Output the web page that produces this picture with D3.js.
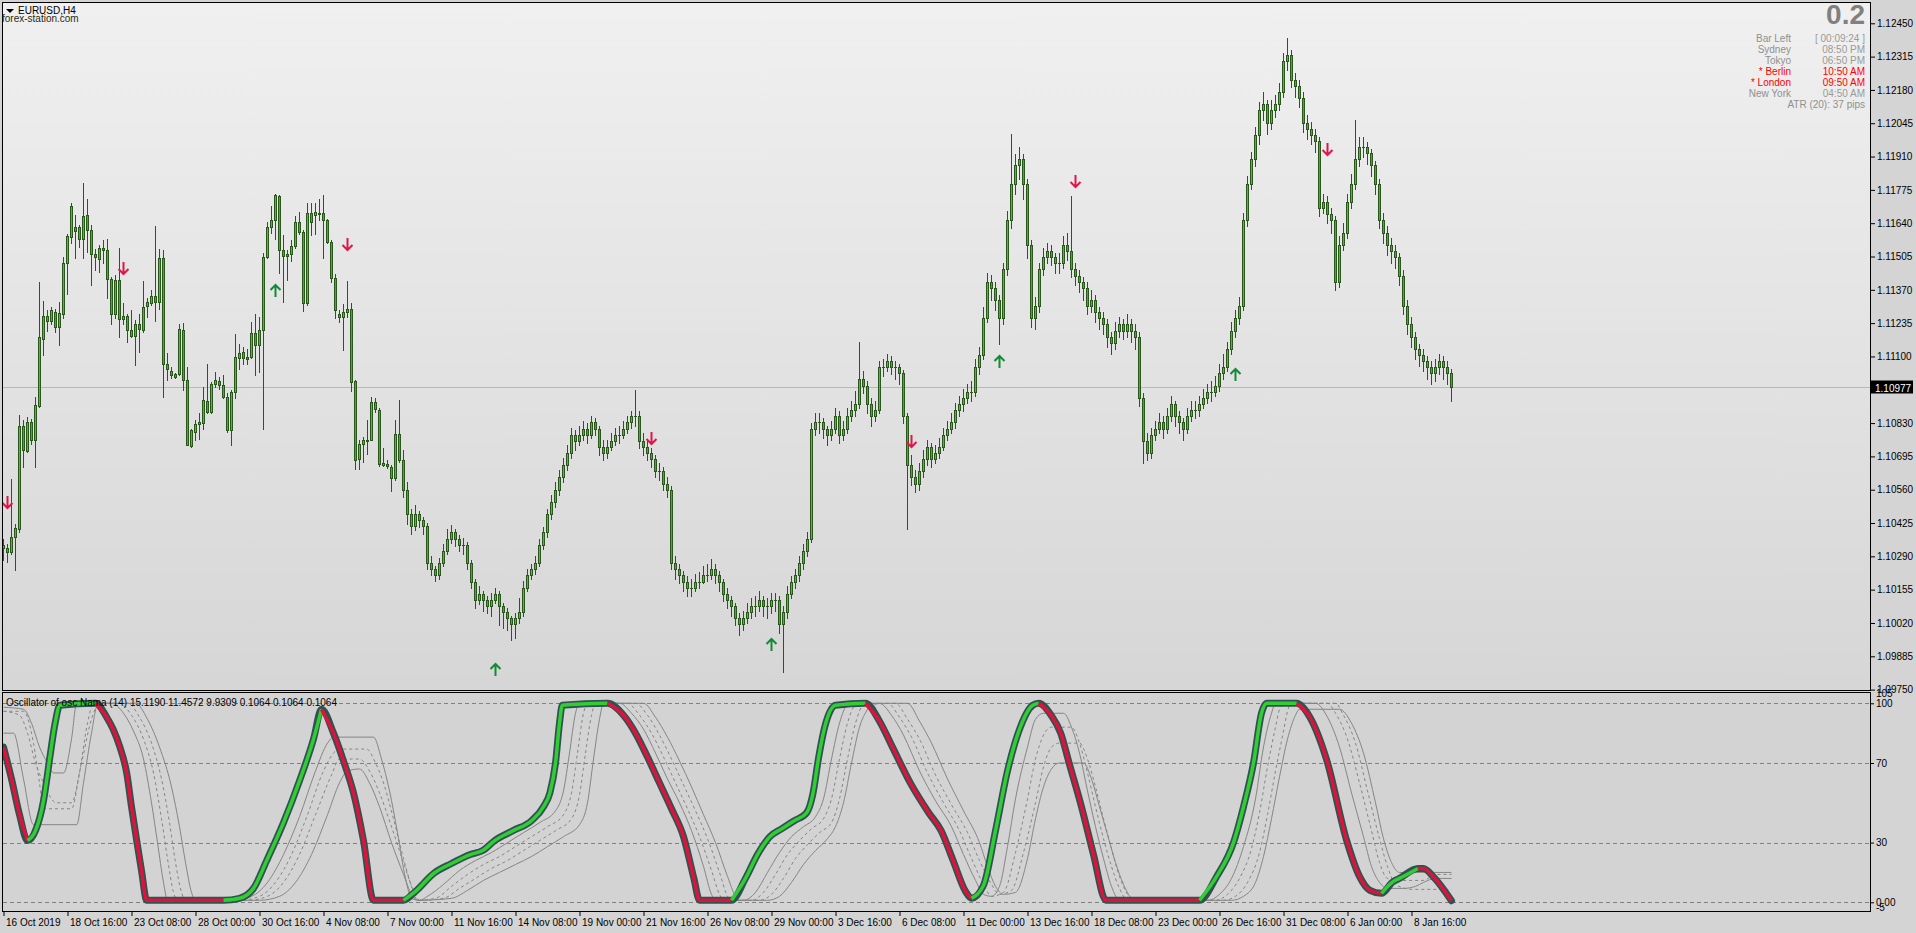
<!DOCTYPE html>
<html><head><meta charset="utf-8">
<script src="https://cdn.jsdelivr.net/npm/d3@7"></script>
<style>body{margin:0;background:#d4d4d4;overflow:hidden}svg{display:block}</style>
</head><body><svg id="c" width="1916" height="933"></svg>
<script>
// ---------------- DATA ----------------
const priceTicks=[1.12450,1.12315,1.12180,1.12045,1.11910,1.11775,1.11640,1.11505,1.11370,1.11235,1.11100,1.10830,1.10695,1.10560,1.10425,1.10290,1.10155,1.10020,1.09885,1.09750];
const currentPrice=1.10977;
const timeLabels=["16 Oct 2019","18 Oct 16:00","23 Oct 08:00","28 Oct 00:00","30 Oct 16:00","4 Nov 08:00","7 Nov 00:00","11 Nov 16:00","14 Nov 08:00","19 Nov 00:00","21 Nov 16:00","26 Nov 08:00","29 Nov 00:00","3 Dec 16:00","6 Dec 08:00","11 Dec 00:00","13 Dec 16:00","18 Dec 08:00","23 Dec 00:00","26 Dec 16:00","31 Dec 08:00","6 Jan 00:00","8 Jan 16:00"];
const timeLabelBars=[0,16,32,48,64,80,96,112,128,144,160,176,192,208,224,240,256,272,288,304,320,336,352];
// opens of the first 100 bars (later bars open at the previous close)
const opens=[1.10335,1.10324,1.10308,1.10369,1.10400,1.10817,1.10716,1.10835,1.10761,1.10898,
1.11171,1.11263,1.11244,1.11281,1.11220,1.11274,1.11477,1.11585,1.11623,1.11623,
1.11574,1.11673,1.11612,1.11517,1.11493,1.11541,1.11531,1.11412,1.11270,1.11409,
1.11250,1.11263,1.11209,1.11183,1.11231,1.11209,1.11306,1.11317,1.11346,1.11321,
1.11497,1.11071,1.11040,1.11028,1.11027,1.11209,1.11004,1.10736,1.10794,1.10828,
1.10831,1.10920,1.10875,1.10990,1.11000,1.10984,1.10936,1.10801,1.10954,1.11092,
1.11119,1.11096,1.11096,1.11193,1.11146,1.11209,1.11501,1.11623,1.11652,1.11750,
1.11531,1.11517,1.11515,1.11549,1.11646,1.11605,1.11315,1.11682,1.11675,1.11677,
1.11680,1.11651,1.11562,1.11416,1.11274,1.11258,1.11281,1.11294,1.11001,1.10686,
1.10744,1.10758,1.10763,1.10916,1.10885,1.10659,1.10663,1.10653,1.10609,1.10785];
const closes=[1.10324,1.10308,1.10369,1.10403,1.10817,1.10720,1.10835,1.10761,1.10903,1.11177,
1.11263,1.11244,1.11288,1.11220,1.11278,1.11477,1.11587,1.11709,1.11608,1.11575,
1.11669,1.11612,1.11517,1.11501,1.11541,1.11531,1.11412,1.11270,1.11409,1.11250,
1.11263,1.11209,1.11183,1.11231,1.11213,1.11301,1.11319,1.11346,1.11321,1.11497,
1.11071,1.11050,1.11023,1.11017,1.11213,1.11004,1.10740,1.10801,1.10828,1.10835,
1.10923,1.10875,1.10990,1.11004,1.10984,1.10936,1.10801,1.10954,1.11096,1.11112,
1.11092,1.11089,1.11193,1.11146,1.11209,1.11501,1.11623,1.11652,1.11754,1.11531,
1.11506,1.11508,1.11547,1.11646,1.11605,1.11315,1.11682,1.11643,1.11685,1.11680,
1.11651,1.11562,1.11416,1.11288,1.11258,1.11282,1.11294,1.10996,1.10680,1.10744,
1.10761,1.10763,1.10916,1.10889,1.10666,1.10669,1.10655,1.10609,1.10785,1.10680,
1.10560,1.10461,1.10411,1.10461,1.10436,1.10411,1.10263,1.10238,1.10213,1.10263,
1.10312,1.10362,1.10387,1.10362,1.10337,1.10337,1.10263,1.10188,1.10114,1.10139,
1.10114,1.10089,1.10114,1.10139,1.10089,1.10064,1.10040,1.10015,1.10040,1.10064,
1.10163,1.10213,1.10238,1.10263,1.10337,1.10387,1.10461,1.10511,1.10560,1.10610,
1.10659,1.10709,1.10783,1.10759,1.10783,1.10808,1.10783,1.10833,1.10808,1.10734,
1.10709,1.10734,1.10759,1.10783,1.10783,1.10808,1.10833,1.10858,1.10858,1.10759,
1.10734,1.10709,1.10684,1.10635,1.10635,1.10585,1.10560,1.10263,1.10238,1.10213,
1.10188,1.10163,1.10163,1.10188,1.10188,1.10213,1.10213,1.10238,1.10213,1.10188,
1.10139,1.10114,1.10089,1.10040,1.10015,1.10040,1.10064,1.10089,1.10089,1.10114,
1.10089,1.10089,1.10114,1.10114,1.10015,1.10064,1.10139,1.10188,1.10213,1.10263,
1.10312,1.10362,1.10808,1.10833,1.10833,1.10808,1.10783,1.10808,1.10858,1.10783,
1.10808,1.10858,1.10883,1.10907,1.11007,1.10982,1.10907,1.10858,1.10882,1.11056,
1.11056,1.11081,1.11056,1.11056,1.11031,1.10858,1.10659,1.10610,1.10585,1.10635,
1.10684,1.10734,1.10684,1.10709,1.10734,1.10783,1.10808,1.10833,1.10883,1.10907,
1.10932,1.10957,1.10957,1.11056,1.11106,1.11255,1.11403,1.11379,1.11330,1.11255,
1.11453,1.11651,1.11800,1.11875,1.11899,1.11800,1.11550,1.11255,1.11304,1.11453,
1.11503,1.11527,1.11503,1.11478,1.11478,1.11552,1.11527,1.11453,1.11428,1.11403,
1.11379,1.11304,1.11330,1.11279,1.11255,1.11230,1.11180,1.11155,1.11205,1.11230,
1.11205,1.11230,1.11205,1.11180,1.10932,1.10757,1.10709,1.10783,1.10808,1.10833,
1.10808,1.10858,1.10907,1.10858,1.10833,1.10808,1.10858,1.10883,1.10883,1.10907,
1.10932,1.10957,1.10957,1.10982,1.11031,1.11056,1.11131,1.11205,1.11255,1.11304,
1.11652,1.11800,1.11899,1.11999,1.12098,1.12122,1.12048,1.12098,1.12123,1.12172,
1.12297,1.12321,1.12222,1.12197,1.12147,1.12048,1.12023,1.11999,1.11974,1.11701,
1.11726,1.11676,1.11651,1.11403,1.11552,1.11602,1.11726,1.11800,1.11899,1.11949,
1.11949,1.11924,1.11874,1.11800,1.11651,1.11602,1.11552,1.11527,1.11503,1.11428,
1.11304,1.11230,1.11180,1.11131,1.11106,1.11081,1.11056,1.11031,1.11056,1.11081,
1.11056,1.11031,1.10977];
const highs=[1.10362,1.10342,1.10605,1.10423,1.10862,1.10842,1.10855,1.10848,1.10936,1.11402,
1.11325,1.11290,1.11301,1.11294,1.11321,1.11504,1.11598,1.11720,1.11673,1.11632,
1.11801,1.11740,1.11632,1.11537,1.11551,1.11571,1.11574,1.11423,1.11429,1.11541,
1.11315,1.11274,1.11290,1.11247,1.11274,1.11405,1.11335,1.11369,1.11628,1.11537,
1.11531,1.11112,1.11058,1.11034,1.11233,1.11236,1.11058,1.10808,1.10842,1.10869,
1.10977,1.11071,1.10997,1.11038,1.11017,1.11024,1.10950,1.10963,1.11190,1.11152,
1.11139,1.11132,1.11238,1.11271,1.11261,1.11520,1.11646,1.11709,1.11760,1.11754,
1.11591,1.11531,1.11571,1.11670,1.11686,1.11612,1.11720,1.11720,1.11720,1.11740,
1.11756,1.11659,1.11571,1.11433,1.11288,1.11312,1.11405,1.11315,1.11004,1.10761,
1.10774,1.10844,1.10936,1.10930,1.10892,1.10727,1.10680,1.10659,1.10842,1.10923,
1.10720,1.10590,1.10480,1.10500,1.10475,1.10450,1.10425,1.10290,1.10250,1.10285,
1.10340,1.10400,1.10415,1.10400,1.10375,1.10365,1.10350,1.10275,1.10200,1.10170,
1.10150,1.10130,1.10140,1.10160,1.10150,1.10100,1.10080,1.10050,1.10060,1.10120,
1.10190,1.10240,1.10260,1.10290,1.10360,1.10410,1.10480,1.10540,1.10590,1.10640,
1.10690,1.10740,1.10810,1.10800,1.10820,1.10840,1.10830,1.10860,1.10850,1.10820,
1.10760,1.10760,1.10790,1.10810,1.10820,1.10840,1.10860,1.10880,1.10965,1.10880,
1.10790,1.10760,1.10730,1.10700,1.10670,1.10650,1.10610,1.10575,1.10290,1.10260,
1.10230,1.10210,1.10200,1.10220,1.10225,1.10250,1.10260,1.10280,1.10260,1.10230,
1.10200,1.10160,1.10130,1.10100,1.10060,1.10070,1.10100,1.10120,1.10130,1.10150,
1.10130,1.10120,1.10140,1.10140,1.10130,1.10090,1.10170,1.10210,1.10240,1.10290,
1.10340,1.10390,1.10830,1.10870,1.10870,1.10850,1.10820,1.10840,1.10890,1.10880,
1.10840,1.10890,1.10920,1.10960,1.11160,1.11040,1.11000,1.10930,1.10920,1.11080,
1.11090,1.11110,1.11100,1.11080,1.11070,1.11045,1.10870,1.10700,1.10640,1.10670,
1.10720,1.10760,1.10750,1.10740,1.10770,1.10810,1.10840,1.10870,1.10910,1.10940,
1.10970,1.10990,1.11000,1.11090,1.11140,1.11300,1.11440,1.11430,1.11400,1.11350,
1.11480,1.11690,1.12000,1.11920,1.11950,1.11920,1.11820,1.11570,1.11340,1.11480,
1.11540,1.11560,1.11550,1.11520,1.11520,1.11590,1.11600,1.11750,1.11480,1.11450,
1.11420,1.11400,1.11370,1.11350,1.11300,1.11280,1.11250,1.11200,1.11240,1.11260,
1.11250,1.11270,1.11250,1.11230,1.11200,1.10950,1.10790,1.10810,1.10840,1.10870,
1.10860,1.10890,1.10940,1.10920,1.10880,1.10850,1.10890,1.10920,1.10920,1.10940,
1.10970,1.10990,1.11000,1.11020,1.11070,1.11110,1.11160,1.11240,1.11290,1.11340,
1.11680,1.11830,1.11930,1.12030,1.12130,1.12170,1.12140,1.12140,1.12160,1.12210,
1.12330,1.12390,1.12340,1.12250,1.12220,1.12170,1.12080,1.12050,1.12020,1.11990,
1.11760,1.11750,1.11700,1.11670,1.11590,1.11640,1.11760,1.11840,1.12060,1.11990,
1.11990,1.11970,1.11940,1.11890,1.11820,1.11680,1.11630,1.11580,1.11550,1.11520,
1.11450,1.11330,1.11260,1.11200,1.11150,1.11130,1.11100,1.11080,1.11090,1.11110,
1.11100,1.11080,1.11050];
const lows=[1.10274,1.10268,1.10301,1.10234,1.10389,1.10653,1.10713,1.10747,1.10653,1.10896,
1.11105,1.11204,1.11233,1.11200,1.11146,1.11254,1.11352,1.11560,1.11497,1.11544,
1.11497,1.11524,1.11389,1.11450,1.11443,1.11477,1.11335,1.11233,1.11254,1.11179,
1.11233,1.11159,1.11179,1.11065,1.11119,1.11200,1.11261,1.11308,1.11244,1.11294,
1.10934,1.11004,1.11011,1.11011,1.11024,1.10963,1.10740,1.10734,1.10761,1.10767,
1.10808,1.10869,1.10869,1.10977,1.10970,1.10930,1.10794,1.10740,1.10930,1.11051,
1.11071,1.11071,1.11092,1.11024,1.11038,1.10804,1.11497,1.11601,1.11574,1.11439,
1.11321,1.11409,1.11487,1.11541,1.11598,1.11285,1.11308,1.11591,1.11598,1.11652,
1.11497,1.11558,1.11402,1.11254,1.11240,1.11128,1.11261,1.10961,1.10642,1.10642,
1.10673,1.10704,1.10761,1.10875,1.10655,1.10655,1.10646,1.10555,1.10599,1.10673,
1.10530,1.10420,1.10380,1.10395,1.10410,1.10380,1.10240,1.10215,1.10190,1.10200,
1.10250,1.10300,1.10345,1.10330,1.10310,1.10300,1.10240,1.10160,1.10080,1.10095,
1.10070,1.10060,1.10050,1.10100,1.10010,1.10000,1.09990,1.09950,1.09960,1.10020,
1.10050,1.10150,1.10200,1.10220,1.10250,1.10320,1.10370,1.10440,1.10490,1.10540,
1.10590,1.10640,1.10690,1.10720,1.10740,1.10760,1.10750,1.10770,1.10780,1.10700,
1.10680,1.10690,1.10720,1.10740,1.10750,1.10770,1.10790,1.10810,1.10820,1.10730,
1.10700,1.10680,1.10650,1.10610,1.10600,1.10560,1.10530,1.10240,1.10200,1.10180,
1.10150,1.10130,1.10130,1.10150,1.10160,1.10180,1.10190,1.10200,1.10180,1.10150,
1.10110,1.10080,1.10050,1.10010,1.09970,1.09990,1.10020,1.10040,1.10050,1.10070,
1.10050,1.10040,1.10060,1.10070,1.09980,1.09820,1.10040,1.10120,1.10160,1.10190,
1.10240,1.10290,1.10350,1.10780,1.10790,1.10770,1.10740,1.10760,1.10790,1.10750,
1.10760,1.10790,1.10840,1.10860,1.10890,1.10950,1.10870,1.10820,1.10840,1.10870,
1.11020,1.11040,1.11030,1.11010,1.10990,1.10830,1.10400,1.10580,1.10550,1.10560,
1.10610,1.10660,1.10650,1.10670,1.10690,1.10720,1.10760,1.10790,1.10810,1.10860,
1.10880,1.10910,1.10920,1.10940,1.11030,1.11090,1.11240,1.11330,1.11290,1.11150,
1.11230,1.11430,1.11620,1.11760,1.11820,1.11740,1.11500,1.11220,1.11210,1.11280,
1.11430,1.11480,1.11470,1.11440,1.11440,1.11460,1.11490,1.11420,1.11390,1.11360,
1.11330,1.11270,1.11280,1.11240,1.11210,1.11190,1.11140,1.11110,1.11130,1.11180,
1.11170,1.11180,1.11160,1.11130,1.10900,1.10670,1.10680,1.10690,1.10760,1.10790,
1.10770,1.10790,1.10840,1.10820,1.10790,1.10760,1.10790,1.10840,1.10850,1.10860,
1.10890,1.10910,1.10920,1.10940,1.10960,1.11010,1.11040,1.11110,1.11180,1.11230,
1.11290,1.11630,1.11780,1.11870,1.11960,1.12060,1.12000,1.12020,1.12070,1.12100,
1.12150,1.12260,1.12190,1.12150,1.12110,1.12010,1.11980,1.11960,1.11930,1.11670,
1.11680,1.11640,1.11600,1.11370,1.11380,1.11530,1.11580,1.11700,1.11780,1.11870,
1.11910,1.11880,1.11830,1.11760,1.11620,1.11560,1.11510,1.11480,1.11460,1.11390,
1.11270,1.11190,1.11140,1.11090,1.11060,1.11040,1.11010,1.10990,1.11000,1.11030,
1.11010,1.10990,1.10920];
const sellArrowBars=[1,30,86,162,227,268,331];
const sellArrowPrices=[1.10511,1.11460,1.11555,1.10769,1.10759,1.11810,1.11939];
const buyArrowBars=[68,123,192,249,308];
const buyArrowPrices=[1.11366,1.09831,1.09930,1.11076,1.11026];
// oscillator main line: [bar, value, direction of following segment (1 up / -1 down)]
const oscMain=[[0,78,-1],[2,62,-1],[4,44,-1],[6,31,1],[8,36,1],[10,51,1],[11.6,73,1],[12.9,90,1],[14.1,99,1],[23,100,-1],
[25.8,93,-1],[27.4,87,-1],[29.1,78,-1],[30.8,65,-1],[32,48,-1],[33.3,31,-1],[34.5,16,-1],[35.8,1,-1],[55,1,1],[59,2,1],
[62.5,7,1],[65.8,21,1],[70,40,1],[74,61,1],[77.5,82,1],[79.5,97,-1],[82.5,85,-1],[85,71,-1],[87.5,55,-1],[90,31,-1],
[92.5,1,-1],[100,1,1],[103,5.5,1],[107.6,14.6,1],[112,19.5,1],[116.7,24,1],[119.8,26,1],[122.8,31,1],[127.4,36,1],[132,41,1],
[135,48,1],[136.6,55,1],[138,70,1],[139,90,1],[139.7,99,1],[151,100,-1],[155,94,-1],[158,85,-1],[161,73,-1],[164,60,-1],
[167,47,-1],[170,33,-1],[172.6,12,-1],[174,1,-1],[182,1,1],[185.5,12,1],[188.5,24,1],[191.6,33,1],[194.6,37,1],[197.7,41,1],
[200.8,45,1],[202.3,54,1],[203.8,73,1],[205.3,88,1],[208,99,1],[215.5,100,-1],[219,91,-1],[222,79,-1],[226.7,60,-1],[231.3,45,-1],
[234.4,36,-1],[237.4,21,-1],[240.5,5.5,-1],[242,2,1],[245,8.5,1],[248,36,1],[251,66,1],[254.2,88,1],[257.3,99,1],[258.8,100,-1],
[261.9,94,-1],[264.3,85,-1],[266.4,70,-1],[269.5,48,-1],[272.5,24,-1],[275.6,1,-1],[299,1,1],[303.3,13,1],[307.5,30,1],[310,48,1],
[312.5,70,1],[314.5,95,1],[315.8,100,1],[323.3,100,-1],[326.6,93,-1],[330.8,71.5,-1],[335.8,31,-1],[339,13,-1],[341.6,6,-1],[344.5,4.5,1],
[347.4,10.4,1],[349,12,1],[353.6,17,-1],[355,17,-1],[357.4,13,-1],[362,0.8,-1]];
const oscGrey1=[[0,85],[2.5,85],[5,62],[7.5,39],[18.3,39],[20,60],[22,85],[23.5,99],[27,100],[30,95],[32.5,86],[35,72],[37,50],[38.5,30],[40,10],[41,1],[57,1],[62,3],[66,10],[70,24],[74,43],[78,66],[81,80],[82.5,83],[92.5,83],[94.5,72],[96.5,56],[98.5,35],[100.5,12],[102,2],[104,1],[106,3],[110,9],[114,16],[118,21],[122,25],[126,30],[130,35],[134,40],[138,46],[140,56],[141.5,75],[143,95],[144,100],[154,100],[157,95],[160,87],[163,75],[166,62],[169,50],[172,36],[175,18],[177,4],[178,1],[185,1],[188,5],[191,15],[194,25],[197,33],[200,38],[203,43],[205,52],[207,72],[209,90],[211,99],[219,100],[222,94],[225,84],[229,66],[233,51],[237,38],[240,24],[243,11],[245,4],[247,3],[249,8],[251,28],[253,52],[256,78],[258,92],[260,95],[265,95],[267,88],[269,75],[271,56],[273,38],[275,22],[277,8],[279,1],[301,1],[304,4],[307,12],[310,28],[313,52],[315,78],[317,95],[318,100],[328,100],[331,93],[334,78],[337,55],[340,33],[342,18],[344,10],[346,7],[350,7],[353,8],[355,10],[358,12],[362,12]];
const oscGrey2=[[0,96],[5,96],[7.5,80],[9,60],[10,47],[17,47],[19,65],[21,90],[22.5,100],[29,100],[32,94],[35,82],[37.5,65],[39.5,42],[41,22],[42.5,5],[43.5,1],[59,1],[64,3],[68,10],[72,24],[76,44],[80,66],[83,76],[84,77],[90.8,77],[93,70],[95,60],[97.5,42],[100,22],[102,8],[103.5,1],[108,2],[112,8],[116,14],[120,19],[124,23],[128,28],[132,33],[136,38],[140,44],[142,55],[143.5,75],[145,95],[146,100],[156,100],[159,94],[162,85],[165,73],[168,60],[171,47],[174,33],[177,16],[179,4],[180,1],[187,1],[190,5],[193,14],[196,24],[199,31],[202,37],[205,42],[207,52],[209,72],[211,90],[213,99],[221,100],[224,93],[227,83],[231,65],[235,50],[239,36],[242,22],[245,9],[247,3],[250,5],[253,25],[256,52],[258,72],[260,84],[262,88],[267,88],[269,80],[271,65],[273,48],[275,32],[277,18],[279,7],[281,1],[303,1],[306,4],[309,12],[312,27],[314,45],[316,68],[318,88],[319,97],[320,100],[331,100],[333,95],[336,82],[339,60],[342,36],[344,20],[346,12],[349,11],[355,11],[358,14],[362,14]];
const oscGrey3=[[0,96],[4,94],[6,85],[8,70],[10,60],[12,52],[13,50],[17,50],[19.5,70],[22,92],[24,100],[31,100],[34,93],[37,80],[39.5,62],[41.5,40],[43,20],[44.5,5],[45.5,1],[61,1],[66,3],[70,10],[74,24],[78,44],[82,64],[84,72],[89,72],[91.5,66],[94,55],[97,38],[100,20],[102.5,6],[104,1],[110,2],[114,7],[118,12],[122,17],[126,21],[130,26],[134,31],[138,36],[142,42],[144,54],[145.5,75],[147,94],[148,100],[158,100],[161,94],[164,84],[167,72],[170,59],[173,46],[176,32],[179,15],[181,3],[182,1],[189,1],[192,4],[195,12],[198,22],[201,29],[204,35],[207,40],[209,52],[211,72],[213,90],[215,99],[223,100],[226,92],[229,82],[233,64],[237,49],[241,35],[244,21],[247,9],[249,4],[252,6],[255,25],[258,50],[260,68],[262,78],[264,80],[269,80],[271,72],[273,58],[275,42],[277,27],[279,13],[281,4],[282,1],[305,1],[308,3],[311,10],[314,25],[316,44],[318,66],[320,86],[321,96],[322,100],[333,100],[335,94],[338,80],[341,56],[344,32],[346,18],[348,9],[352,6.5],[362,6.5]];
const oscGrey4=[[0,98],[5,97],[7,90],[9,78],[11,70],[12.5,65],[15,65],[17,82],[18.3,100],[33,100],[36,92],[39,78],[42,58],[44,38],[45.5,20],[47,5],[48,1],[64,1],[69,3],[73,10],[77,24],[81,44],[84,60],[86,66],[89,67],[91.5,60],[94,48],[97,30],[100,14],[102,4],[103.5,1],[112,2],[116,6],[120,11],[124,15],[128,19],[132,23],[136,28],[140,33],[144,39],[146,50],[147.5,72],[149,92],[150,100],[160,100],[163,93],[166,83],[169,71],[172,58],[175,44],[178,30],[181,13],[183,3],[184,1],[191,1],[194,3],[197,10],[200,19],[203,26],[206,32],[208,38],[210,50],[212,70],[214,88],[216,97],[217,100],[226,100],[229,91],[232,80],[236,62],[240,46],[244,30],[246,18],[248,8],[250,4],[253,5],[256,22],[258,42],[260,58],[262,67],[264,70],[270,70],[272,62],[274,48],[276,34],[278,20],[280,9],[282,2],[283,1],[307,1],[310,3],[313,10],[315,23],[317,42],[319,63],[321,82],[323,94],[324,97],[334,97],[337,90],[340,75],[343,50],[345,32],[347,20],[349,15],[362,15]];
const oscLevels=[100,70,30,0];
const infoLabels=["Bar Left","Sydney","Tokyo","* Berlin","* London","New York"];
const infoValues=["[ 00:09:24 ]","08:50 PM","06:50 PM","10:50 AM","09:50 AM","04:50 AM"];
const infoActive=[false,false,false,true,true,false];

// ---------------- DRAW ----------------
const FONT="'Liberation Sans', Arial, sans-serif";
const WICK="#28591b",BULL="#3cc43c",BEAR="#c46a3c";
const svg=d3.select("#c").attr("font-family",FONT);
const defs=svg.append("defs");
const gr=defs.append("linearGradient").attr("id","bg").attr("x1",0).attr("y1",0).attr("x2",0).attr("y2",1);
gr.append("stop").attr("offset","0%").attr("stop-color","#f0f0f0");
gr.append("stop").attr("offset","100%").attr("stop-color","#d6d6d6");
defs.append("clipPath").attr("id","cp").append("rect").attr("x",3).attr("y",3).attr("width",1867).attr("height",687);
defs.append("clipPath").attr("id","co").append("rect").attr("x",3).attr("y",693).attr("width",1867).attr("height",218);

svg.append("rect").attr("width",1916).attr("height",933).attr("fill","#d4d4d4");
svg.append("rect").attr("x",2.5).attr("y",2.5).attr("width",1868).attr("height",688).attr("fill","url(#bg)").attr("stroke","#000");
svg.append("rect").attr("x",2.5).attr("y",692.5).attr("width",1868).attr("height",219).attr("fill","#d3d3d3").attr("stroke","#000");

const x=d3.scaleLinear().domain([0,362]).range([3.5,1451.5]);
const y=d3.scaleLinear().domain([1.09750,1.12450]).range([689.6,23.3]);
const yo=d3.scaleLinear().domain([0,100]).range([902.3,703.3]);

// current price line
const gP=svg.append("g").attr("clip-path","url(#cp)");
const yc=Math.round(y(currentPrice))+0.5;
gP.append("line").attr("x1",3).attr("x2",1870).attr("y1",yc).attr("y2",yc).attr("stroke","#b8b8b8");

// candles
const bars=closes.map((c,i)=>{
  const o=i<opens.length?opens[i]:closes[i-1];
  const h=highs[i],l=lows[i];
  const top=Math.round(y(Math.max(o,c))),bot=Math.round(y(Math.min(o,c)));
  return {i,o,c,h,l,top,bot};
});
gP.selectAll("line.wick").data(bars).join("line").attr("class","wick")
  .attr("x1",d=>x(d.i)).attr("x2",d=>x(d.i))
  .attr("y1",d=>Math.round(y(d.h))).attr("y2",d=>Math.round(y(d.l))+1).attr("stroke",WICK);
gP.selectAll("rect.body").data(bars).join("rect").attr("class","body")
  .attr("x",d=>x(d.i)-1.5).attr("width",3)
  .attr("y",d=>d.top).attr("height",d=>Math.max(1,d.bot-d.top+1)).attr("fill",WICK);
gP.selectAll("rect.inner").data(bars.filter(d=>d.bot-d.top>=2)).join("rect").attr("class","inner")
  .attr("x",d=>x(d.i)-0.5).attr("width",1)
  .attr("y",d=>d.top+1).attr("height",d=>d.bot-d.top-1).attr("fill",d=>d.c>=d.o?BULL:BEAR);

// arrows
const sells=sellArrowBars.map((b,k)=>({b,p:sellArrowPrices[k]}));
const buys=buyArrowBars.map((b,k)=>({b,p:buyArrowPrices[k]}));
gP.selectAll("path.sell").data(sells).join("path").attr("class","sell")
  .attr("d",d=>{const cx=x(d.b),cy=Math.round(y(d.p));return `M${cx},${cy-6}V${cy+6}M${cx-5},${cy+1}L${cx},${cy+6}L${cx+5},${cy+1}`;})
  .attr("fill","none").attr("stroke","#e0164a").attr("stroke-width",2);
gP.selectAll("path.buy").data(buys).join("path").attr("class","buy")
  .attr("d",d=>{const cx=x(d.b),cy=Math.round(y(d.p));return `M${cx},${cy+6}V${cy-6}M${cx-5},${cy-1}L${cx},${cy-6}L${cx+5},${cy-1}`;})
  .attr("fill","none").attr("stroke","#138a36").attr("stroke-width",2);

// price axis
const ay=svg.append("g").attr("transform","translate(1871,0)")
  .call(d3.axisRight(y).tickValues(priceTicks).tickSize(4).tickPadding(2).tickFormat(d3.format(".5f")));
ay.select(".domain").remove();
ay.attr("font-family",FONT).attr("font-size",10);
ay.selectAll("text").attr("fill","#000");
svg.append("rect").attr("x",1871).attr("y",yc-7).attr("width",42).attr("height",13).attr("fill","#000");
svg.append("text").attr("x",1875).attr("y",yc+4).attr("font-size",10).attr("fill","#fff").text(d3.format(".5f")(currentPrice));

// top-left labels
svg.append("path").attr("d","M6,9L14,9L10,13Z").attr("fill","#000");
svg.append("text").attr("x",18).attr("y",14).attr("font-size",10).attr("fill","#000").text("EURUSD,H4");
svg.append("text").attr("x",2).attr("y",22).attr("font-size",10).attr("fill","#2a2a10").text("forex-station.com");

// info panel
svg.append("text").attr("x",1865).attr("y",24).attr("text-anchor","end").attr("font-size",28).attr("font-weight","bold").attr("fill","#808080").text("0.2");
const infoY=d3.scaleLinear().domain([0,1]).range([42.3,53.3]);
svg.selectAll("text.il").data(infoLabels).join("text").attr("class","il")
  .attr("x",1791).attr("y",(d,i)=>infoY(i)).attr("text-anchor","end").attr("font-size",10)
  .attr("fill",(d,i)=>infoActive[i]?"#ff0000":"#8f8f8f").text(d=>d);
svg.selectAll("text.iv").data(infoValues).join("text").attr("class","iv")
  .attr("x",1865).attr("y",(d,i)=>infoY(i)).attr("text-anchor","end").attr("font-size",10)
  .attr("fill",(d,i)=>infoActive[i]?"#ff0000":"#9a9a9a").text(d=>d);
svg.append("text").attr("x",1865).attr("y",infoY(6)).attr("text-anchor","end").attr("font-size",10).attr("fill","#8f8f8f").text("ATR (20): 37 pips");

// oscillator panel
const gO=svg.append("g").attr("clip-path","url(#co)");
gO.selectAll("line.lvl").data(oscLevels).join("line").attr("class","lvl")
  .attr("x1",3).attr("x2",1870).attr("y1",d=>Math.round(yo(d))+0.5).attr("y2",d=>Math.round(yo(d))+0.5)
  .attr("stroke","#808080").attr("stroke-dasharray","4,3");
svg.append("text").attr("x",6).attr("y",705.5).attr("font-size",10).attr("fill","#000")
  .text("Oscillator of osc Nama (14) 15.1190 11.4572 9.9309 0.1064 0.1064 0.1064");
const lineG=d3.line().x(d=>x(d[0])).y(d=>yo(d[1])).curve(d3.curveMonotoneX);
[[oscGrey1,null],[oscGrey2,"3,3"],[oscGrey3,"3,3"],[oscGrey4,null]].forEach(([arr,dash])=>{
  gO.append("path").attr("d",lineG(arr)).attr("fill","none").attr("stroke","#858585").attr("stroke-width",1).attr("stroke-dasharray",dash);
});
gO.append("path").attr("d",lineG(oscMain)).attr("fill","none").attr("stroke","#2f5252").attr("stroke-width",7).attr("stroke-linejoin","round").attr("stroke-linecap","round");
let runs=[],cur=null;
oscMain.forEach((p,k)=>{
  if(k===oscMain.length-1){if(cur)cur.pts.push(p);return;}
  if(!cur||cur.dir!==p[2]){if(cur)cur.pts.push(p);cur={dir:p[2],pts:[p]};runs.push(cur);}else cur.pts.push(p);
});
runs.forEach(r=>{
  gO.append("path").attr("d",lineG(r.pts)).attr("fill","none").attr("stroke",r.dir>0?"#32cd32":"#dc143c").attr("stroke-width",3.5).attr("stroke-linejoin","round");
});

// osc axis
const ao=svg.append("g").attr("transform","translate(1871,0)")
  .call(d3.axisRight(yo).tickValues(oscLevels).tickSize(3).tickPadding(2).tickFormat(d=>d===0?"0.00":d));
ao.select(".domain").remove();
ao.attr("font-family",FONT).attr("font-size",10);
svg.append("text").attr("x",1876).attr("y",yo(105)+4).attr("font-size",10).attr("fill","#000").text("105");
svg.append("text").attr("x",1876).attr("y",yo(-2.5)+4).attr("font-size",10).attr("fill","#000").text("-5");

// time axis
const ax=svg.append("g").attr("transform","translate(0,912)")
  .call(d3.axisBottom(x).tickValues(timeLabelBars).tickSize(4).tickPadding(3).tickFormat((d,i)=>timeLabels[i]));
ax.select(".domain").remove();
ax.attr("font-family",FONT).attr("font-size",10);
ax.selectAll("text").attr("text-anchor","start").attr("x",2).attr("fill","#000");
</script></body></html>
